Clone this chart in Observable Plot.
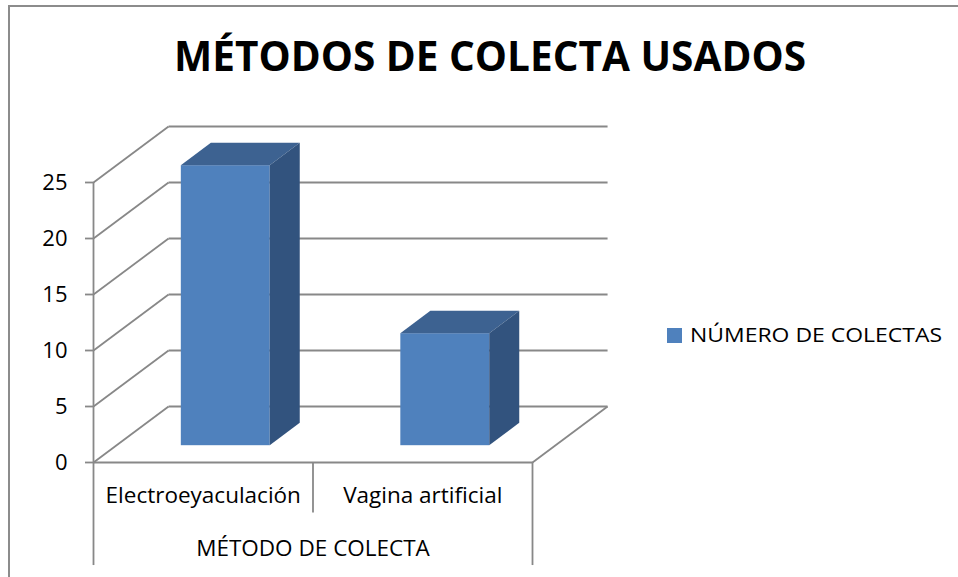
<!DOCTYPE html>
<html>
<head>
<meta charset="utf-8">
<script src="https://cdn.jsdelivr.net/npm/d3@7"></script>
<script src="https://cdn.jsdelivr.net/npm/@observablehq/plot@0.6"></script>
<style>
  body { margin: 0; background: white; }
  #wrap { position: relative; width: 958px; height: 577px; overflow: hidden; background: white; font-family: "Open Sans", sans-serif; }
  #frame { position: absolute; left: 8px; top: 5px; width: 2000px; height: 2000px; border-left: 2px solid #8c8c8c; border-top: 2px solid #8c8c8c; pointer-events: none; }
  #chart { position: absolute; left: 0; top: 0; }
  #overlay { position: absolute; left: 0; top: 0; pointer-events: none; }
</style>
</head>
<body>
<div id="wrap">
  <div id="frame"></div>
  <div id="chart"></div>
  <svg id="overlay" width="958" height="577"></svg>
</div>
<script>
// ---- data ----
const chartTitle = "MÉTODOS DE COLECTA USADOS";
const categories = ["Electroeyaculación", "Vagina artificial"];
const values = [25, 10];
const seriesName = "NÚMERO DE COLECTAS";
const axisTitle = "MÉTODO DE COLECTA";
const yTicks = [0, 5, 10, 15, 20, 25];

// ---- 3D projection settings (in scale units) ----
const depthX = 0.342;   // oblique depth offset along x
const depthY = 5;       // oblique depth offset along y
const barW = 0.405;     // bar width in category units
const dStart = 0.3, dEnd = 0.7; // bar depth extent (fraction of wall depth)
const nCat = categories.length;

const gridColor = "#888888";
const front = "#4f81bd", topC = "#3d6291", side = "#32537e";

const bars = categories.map((c, i) => {
  const a = i + 0.5 - barW / 2 + dStart * depthX;
  const b = a + barW;
  const y0 = dStart * depthY;
  const top = values[i] + y0;
  const ddx = (dEnd - dStart) * depthX, ddy = (dEnd - dStart) * depthY;
  return {c, i, a, b, y0, top, ddx, ddy};
});
const topPts = bars.flatMap(d => [
  {c: d.c, y: d.top, x1: d.a, x2: d.b},
  {c: d.c, y: d.top + d.ddy, x1: d.a + d.ddx, x2: d.b + d.ddx}
]);
const sidePts = bars.flatMap(d => [
  {c: d.c, x: d.b, y1: d.y0, y2: d.top},
  {c: d.c, x: d.b + d.ddx, y1: d.y0 + d.ddy, y2: d.top + d.ddy}
]);
const separators = d3.range(nCat + 1).map(i => ({x: i, outer: i === 0 || i === nCat}));

const plot = Plot.plot({
  width: 958,
  height: 577,
  marginLeft: 93,
  marginRight: 426,
  marginTop: 126,
  marginBottom: 115,
  style: {background: "transparent", fontFamily: "Open Sans", fontSize: "20px", color: "black"},
  x: {domain: [0, nCat], axis: null},
  y: {domain: [0, 30], axis: null},
  marks: [
    // side wall gridlines
    Plot.link(yTicks, {x1: 0, y1: d => d, x2: depthX, y2: d => d + depthY, stroke: gridColor, strokeWidth: 1.8}),
    // back wall gridlines
    Plot.link(yTicks, {x1: depthX, x2: nCat + depthX, y1: d => d + depthY, y2: d => d + depthY, stroke: gridColor, strokeWidth: 1.8}),
    // floor front and right edges
    Plot.link([0], {x1: 0, x2: nCat, y1: 0, y2: 0, stroke: gridColor, strokeWidth: 1.8}),
    Plot.link([0], {x1: nCat, x2: nCat + depthX, y1: 0, y2: depthY, stroke: gridColor, strokeWidth: 1.8}),
    // front vertical value axis line
    Plot.ruleX([0], {y1: 0, y2: yTicks[yTicks.length - 1], stroke: gridColor, strokeWidth: 1.8}),
    // category separators (multi-level axis box)
    Plot.ruleX(separators, {x: "x", y1: 0, y2: d => d.outer ? -9.2 : -4.5, stroke: gridColor, strokeWidth: 1.8}),
    // y axis ticks and labels
    Plot.axisY({ticks: yTicks, tickSize: 8, tickPadding: 18, stroke: gridColor, strokeWidth: 1.8, fontSize: 22, label: null}),
    // bars: front, top, side
    Plot.rect(bars, {x1: "a", x2: "b", y1: "y0", y2: "top", fill: front}),
    Plot.areaX(topPts, {y: "y", x1: "x1", x2: "x2", z: "c", fill: topC}),
    Plot.areaY(sidePts, {x: "x", y1: "y1", y2: "y2", z: "c", fill: side}),
    // category labels
    Plot.text(categories, {x: (d, i) => i + 0.5, y: -2.95, text: d => d, fontSize: 22.5, fill: "black"}),
    Plot.text([axisTitle], {x: nCat / 2, y: -7.7, text: d => d, fontSize: 22.5, fill: "black"})
  ]
});
document.getElementById("chart").appendChild(plot);

// title and legend overlay
const ov = d3.select("#overlay");
ov.append("text")
  .attr("x", 490).attr("y", 71)
  .attr("text-anchor", "middle")
  .attr("font-family", "Open Sans").attr("font-weight", "bold").attr("font-size", 41)
  .attr("textLength", 632).attr("lengthAdjust", "spacingAndGlyphs")
  .attr("fill", "black")
  .text(chartTitle);
ov.append("rect").attr("x", 667).attr("y", 328).attr("width", 15).attr("height", 15).attr("fill", front);
ov.append("text")
  .attr("x", 690).attr("y", 342)
  .attr("font-family", "Open Sans").attr("font-size", 20.5)
  .attr("textLength", 252).attr("lengthAdjust", "spacingAndGlyphs")
  .attr("fill", "black")
  .text(seriesName);
</script>
</body>
</html>
